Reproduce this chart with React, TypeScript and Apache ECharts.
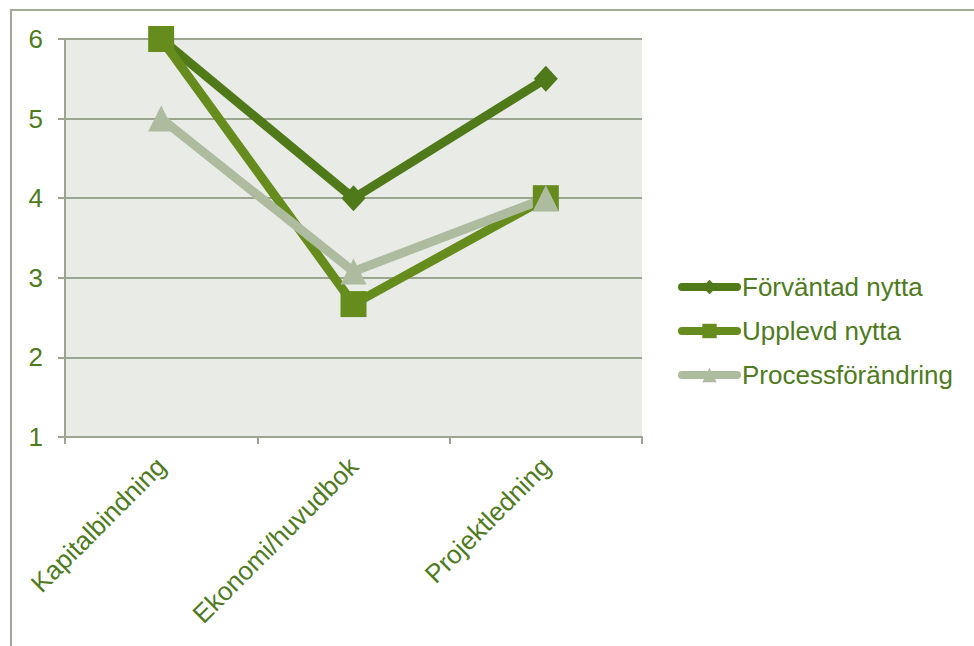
import React, { useEffect, useRef } from "react";
import * as echarts from "echarts";

const categories = ["Kapitalbindning", "Ekonomi/huvudbok", "Projektledning"];
const forvantad = [6, 4, 5.5];
const upplevd = [6, 2.67, 4];
const process = [5, 3.08, 4];
const seriesNames = ["Förväntad nytta", "Upplevd nytta", "Processförändring"];

const TEXT = "#4f7a1e";
const GRID = "#9ca590";

export default function App() {
  const ref = useRef<HTMLDivElement>(null);
  useEffect(() => {
    document.body.style.margin = "0";
    const chart = echarts.init(ref.current!, null, { renderer: "svg" });
    const font = "'Liberation Sans', Arial, sans-serif";
    chart.setOption({
      animation: false,
      backgroundColor: "#ffffff",
      graphic: [
        {
          type: "rect",
          shape: { x: 11, y: 10, width: 1100, height: 800 },
          style: { fill: "none", stroke: "#a2aa95", lineWidth: 2 },
          silent: true,
        },
      ],
      grid: {
        left: 65,
        right: 332,
        top: 39,
        bottom: 209,
        show: true,
        backgroundColor: "#e8ebe6",
        borderWidth: 0,
      },
      legend: {
        orient: "vertical",
        left: 673,
        top: 269,
        itemWidth: 55,
        itemHeight: 18,
        itemGap: 18,
        data: seriesNames,
        lineStyle: { width: 8, cap: "round" },
        textStyle: { color: TEXT, fontSize: 26, fontFamily: font, lineHeight: 26, padding: [0, 0, 0, 0] },
      },
      xAxis: {
        type: "category",
        data: categories,
        boundaryGap: true,
        axisLine: { lineStyle: { color: GRID, width: 2 } },
        axisTick: { show: true, length: 7, lineStyle: { color: GRID, width: 2 } },
        axisLabel: {
          rotate: 45,
          margin: 25,
          color: TEXT,
          fontSize: 26,
          fontFamily: font,
          interval: 0,
        },
      },
      yAxis: {
        type: "value",
        min: 1,
        max: 6,
        interval: 1,
        axisLine: { show: true, lineStyle: { color: GRID, width: 2 } },
        axisTick: { show: true, length: 7, lineStyle: { color: GRID, width: 2 } },
        splitLine: { lineStyle: { color: GRID, width: 2 } },
        axisLabel: { margin: 22, color: TEXT, fontSize: 26, fontFamily: font },
      },
      series: [
        {
          name: seriesNames[0],
          type: "line",
          data: forvantad,
          symbol: "diamond",
          symbolSize: [24, 26],
          lineStyle: { color: "#507a1a", width: 9, cap: "round", join: "round" },
          itemStyle: { color: "#507a1a" },
        },
        {
          name: seriesNames[1],
          type: "line",
          data: upplevd,
          symbol: "rect",
          symbolSize: 26,
          lineStyle: { color: "#678c1e", width: 9, cap: "round", join: "round" },
          itemStyle: { color: "#678c1e" },
        },
        {
          name: seriesNames[2],
          type: "line",
          data: process,
          symbol: "triangle",
          symbolSize: 26,
          lineStyle: { color: "#adbc9e", width: 9, cap: "round", join: "round" },
          itemStyle: { color: "#adbc9e" },
        },
      ],
    });
    return () => chart.dispose();
  }, []);
  return <div ref={ref} style={{ position: "fixed", left: 0, top: 0, width: 974, height: 646 }} />;
}
